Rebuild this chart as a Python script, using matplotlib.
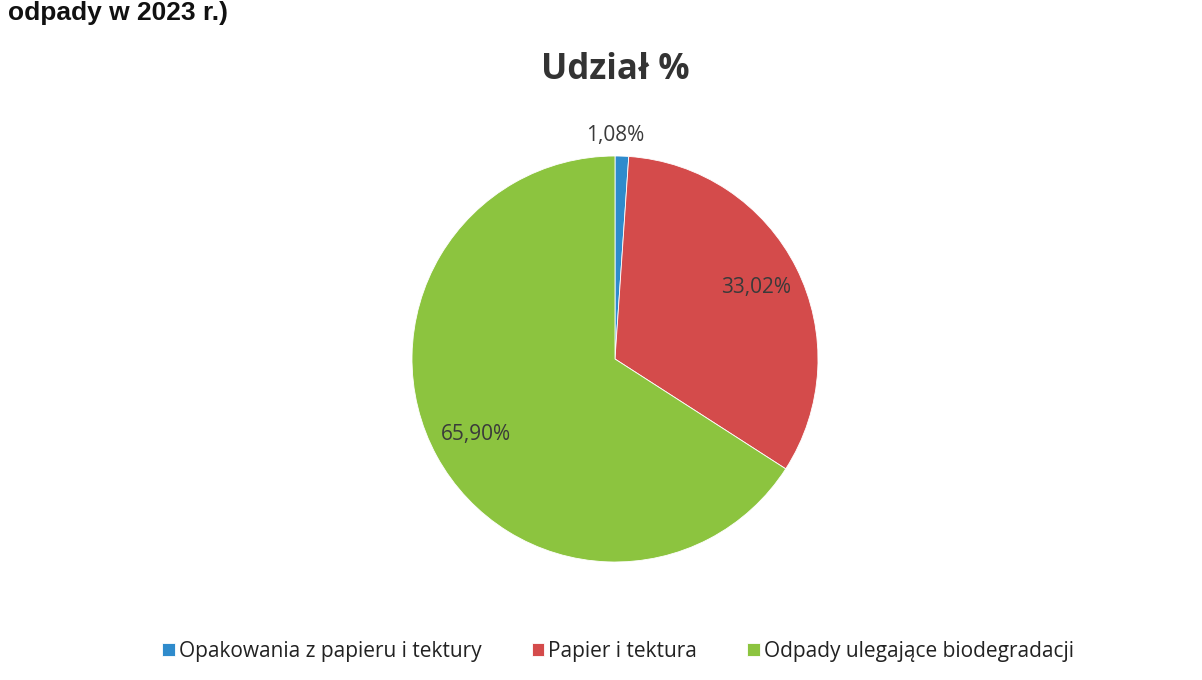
import matplotlib.pyplot as plt

categories = ["Opakowania z papieru i tektury", "Papier i tektura", "Odpady ulegające biodegradacji"]
shares = [1.08, 33.02, 65.90]
colors = ["#2f8bcc", "#d44b4b", "#8cc43f"]

W, H = 1202, 680
fig = plt.figure(figsize=(W / 100, H / 100), dpi=100)

# pie axes, centre ~ (615, 359) px, radius ~203 px
cx, cy, r = 615, 359, 203
ax = fig.add_axes([(cx - r) / W, (H - cy - r) / H, 2 * r / W, 2 * r / H])

def fmt(p):
    return ("%.2f%%" % p).replace(".", ",")

wedges, texts, autotexts = ax.pie(shares, colors=colors, startangle=90, counterclock=False,
                                  autopct=fmt, pctdistance=0.78,
                                  wedgeprops=dict(linewidth=0.6, edgecolor="white"),
                                  textprops=dict(fontsize=15, color="#3a3a3a", family="Open Sans"))
ax.set_aspect("equal")
ax.set_xlim(-1, 1)
ax.set_ylim(-1, 1)

# small slice label sits above the pie
autotexts[0].set_position((0.0, 1.1))

fig.text(cx / W, 1 - 70 / H, "Udział %", ha="center", va="center",
         fontsize=25, fontweight="bold", color="#333333", family="Open Sans")

fig.text(8 / W, 1 - 13 / H, "odpady w 2023 r.)", ha="left", va="center",
         fontsize=19, fontweight="bold", color="#111111", family="Liberation Sans")

leg = fig.legend(wedges, categories, loc="center", bbox_to_anchor=(618 / W, 1 - 651 / H),
                 ncol=3, frameon=False, handlelength=0.6, handleheight=0.6,
                 handletextpad=0.2, columnspacing=2.4,
                 prop=dict(family="Open Sans", size=15))
for t in leg.get_texts():
    t.set_color("#222222")

fig.savefig("out.png", dpi=100)
